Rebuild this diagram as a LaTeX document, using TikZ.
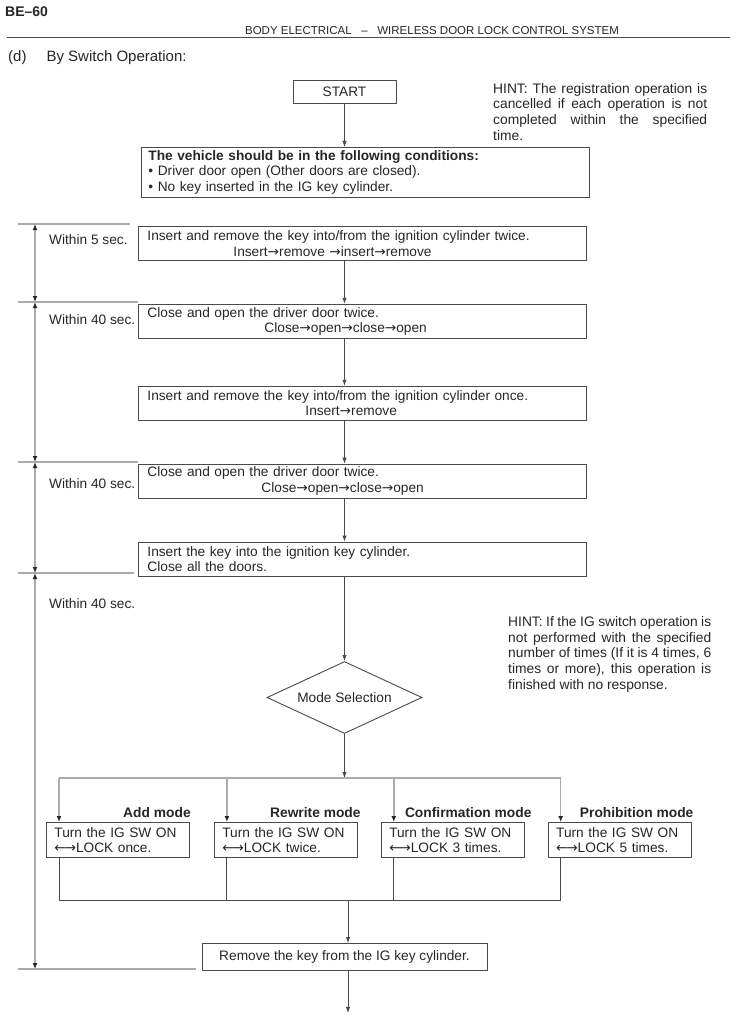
\documentclass[tikz,border=0pt]{standalone}
\usepackage{fontspec}
\setmainfont{Liberation Sans}
\newfontfamily\arwfont{DejaVu Sans}[Scale=1.0]
\newcommand{\ra}{{\arwfont →}}
\newcommand{\lra}{{\arwfont ←\kern-0.1em→}}
\usetikzlibrary{positioning,shapes.geometric,arrows.meta}

\definecolor{ink}{HTML}{262626}
\definecolor{frame}{HTML}{4A4A4A}
\definecolor{rule}{HTML}{ABABAB}

\tikzset{
  box/.style={draw=frame, line width=0.9pt, anchor=north west, inner xsep=9pt, inner ysep=2pt,
    text width=430pt, minimum height=34pt, align=left},
  mbox/.style={draw=frame, line width=0.9pt, anchor=north west, inner xsep=8pt, inner ysep=2pt,
    text width=127pt, minimum height=35pt, align=left},
  mlbl/.style={font=\fontsize{13.8}{16}\bfseries, anchor=base east, inner sep=0pt},
  txt/.style={anchor=west, inner sep=0pt},
  hint/.style={anchor=north west, inner sep=0pt, align=justify, font=\fontsize{13.8}{15.8}\selectfont},
  flow/.style={draw=frame, line width=0.9pt, -{Latex[length=6pt,width=4.5pt]}},
  drop/.style={draw=rule, line width=1.4pt, -{Latex[length=6pt,width=5pt,color=ink]}},
  link/.style={draw=frame, line width=0.9pt},
  tick/.style={draw=rule, line width=1.6pt},
  span/.style={draw=rule, line width=1.4pt,
    {Latex[length=6pt,width=5pt,color=ink]}-{Latex[length=6pt,width=5pt,color=ink]}},
}

\begin{document}
\begin{tikzpicture}[x=1pt, y=-1pt, text=ink, font=\fontsize{13.7}{15.5}\selectfont]
  \useasboundingbox (0,0) rectangle (750,1035);

  % page head
  \node[txt, font=\fontsize{14}{16}\bfseries] (pg) at (5,12) {BE–60};
  \node[font=\fontsize{11.5}{13}\selectfont] (hd) at (432,31)
    {BODY ELECTRICAL~~~–~~~WIRELESS DOOR LOCK CONTROL SYSTEM};
  \draw[frame, line width=1pt] (7,38) -- (730,38);
  \node[txt, font=\fontsize{15}{17}\selectfont] (sub) at (8,58) {(d)\hspace{20pt}By Switch Operation:};

  % main flow
  \node[draw=frame, line width=0.9pt, minimum width=103pt, minimum height=23pt] (st) at (344.5,91.5) {START};
  \node[box, inner xsep=7pt, text width=434pt, minimum height=50pt] (cnd) at (141,147)
    {\textbf{The vehicle should be in the following conditions:}\\
     • Driver door open (Other doors are closed).\\
     • No key inserted in the IG key cylinder.};
  \node[box] (k1) at (138,226)
    {Insert and remove the key into/from the ignition cylinder twice.\\
     \hspace*{86pt}Insert\ra remove \ra insert\ra remove};
  \node[box, below=43pt of k1] (d1)
    {Close and open the driver door twice.\\
     \hspace*{117pt}Close\ra open\ra close\ra open};
  \node[box, below=47pt of d1] (k2)
    {Insert and remove the key into/from the ignition cylinder once.\\
     \hspace*{158pt}Insert\ra remove};
  \node[box, below=43pt of k2] (d2)
    {Close and open the driver door twice.\\
     \hspace*{114pt}Close\ra open\ra close\ra open};
  \node[box, below=43pt of d2] (k3)
    {Insert the key into the ignition key cylinder.\\
     Close all the doors.};
  \node[diamond, aspect=2.15, draw=frame, line width=0.9pt, minimum width=155pt, minimum height=72pt,
    inner sep=0pt] (ms) at (344.5,697.5) {Mode Selection};

  \node[hint, text width=214pt] (h1) at (493,83)
    {HINT: The registration operation is\linebreak
     cancelled if each operation is not\linebreak
     completed within the specified\linebreak time.};
  \node[hint, text width=203pt] (h2) at (508,616)
    {HINT: If the IG switch operation is\linebreak
     not performed with the specified\linebreak
     number of times (If it is 4 times, 6\linebreak
     times or more), this operation is\linebreak
     finished with no response.};

  % modes
  \node[mbox] (ma) at (46,822) {Turn the IG SW ON\\ \lra LOCK once.};
  \node[mbox, right=24pt of ma] (mb) {Turn the IG SW ON\\ \lra LOCK twice.};
  \node[mbox, right=23pt of mb] (mc) {Turn the IG SW ON\\ \lra LOCK 3 times.};
  \node[mbox, right=23pt of mc] (md) {Turn the IG SW ON\\ \lra LOCK 5 times.};
  \foreach \m/\t/\s in {ma/Add mode/1, mb/Rewrite mode/3, mc/Confirmation mode/7, md/Prohibition mode/2}{
    \node[mlbl] (\m-l) at ([xshift=\s pt, yshift=5pt]\m.north east) {\t};
    \coordinate (\m-in) at ([xshift=13pt]\m.north west);
  }
  \node[draw=frame, line width=0.9pt, minimum width=285pt, minimum height=27pt] (rk) at (344.5,957)
    {Remove the key from the IG key cylinder.};
  \coordinate (bt) at (344.5,778);
  \coordinate (bb) at (348,900);
  \coordinate[below=42pt of rk] (endc);

  % connectors
  \draw[flow] (st) -- (st |- cnd.north);
  \foreach \a/\b in {k1/d1, d1/k2, k2/d2, d2/k3}
    \draw[flow] (st |- \a.south) -- (st |- \b.north);
  \draw[flow] (st |- k3.south) -- (ms);
  \draw[flow] (ms) -- (bt);
  \draw[tick] (ma-in |- bt) -- (md-in |- bt);
  \foreach \m in {ma,mb,mc,md}{
    \draw[drop] (\m-in |- bt) -- (\m-in);
    \draw[link] (\m-in |- \m.south) -- (\m-in |- bb);
  }
  \draw[link] (ma-in |- bb) -- (md-in |- bb);
  \draw[flow] (bb) -- (bb |- rk.north);
  \draw[flow] (bb |- rk.south) -- (bb |- endc);

  % time brackets
  \foreach \n/\y/\r in {0/224/130, 1/302/138, 2/462/138, 3/573/134, 4/969/196}{
    \coordinate (ta\n) at (18,\y);
    \coordinate (tb\n) at (\r,\y);
    \coordinate (tv\n) at (35,\y);
    \draw[tick] (ta\n) -- (tb\n);
  }
  \foreach \a/\b in {0/1, 1/2, 2/3, 3/4}
    \draw[span] (tv\a) -- (tv\b);
  \foreach \n/\y/\t in {w1/240/Within 5 sec., w2/320/Within 40 sec., w3/484/Within 40 sec., w4/604/Within 40 sec.}
    \node[txt] (\n) at (49,\y) {\t};
\end{tikzpicture}
\end{document}
